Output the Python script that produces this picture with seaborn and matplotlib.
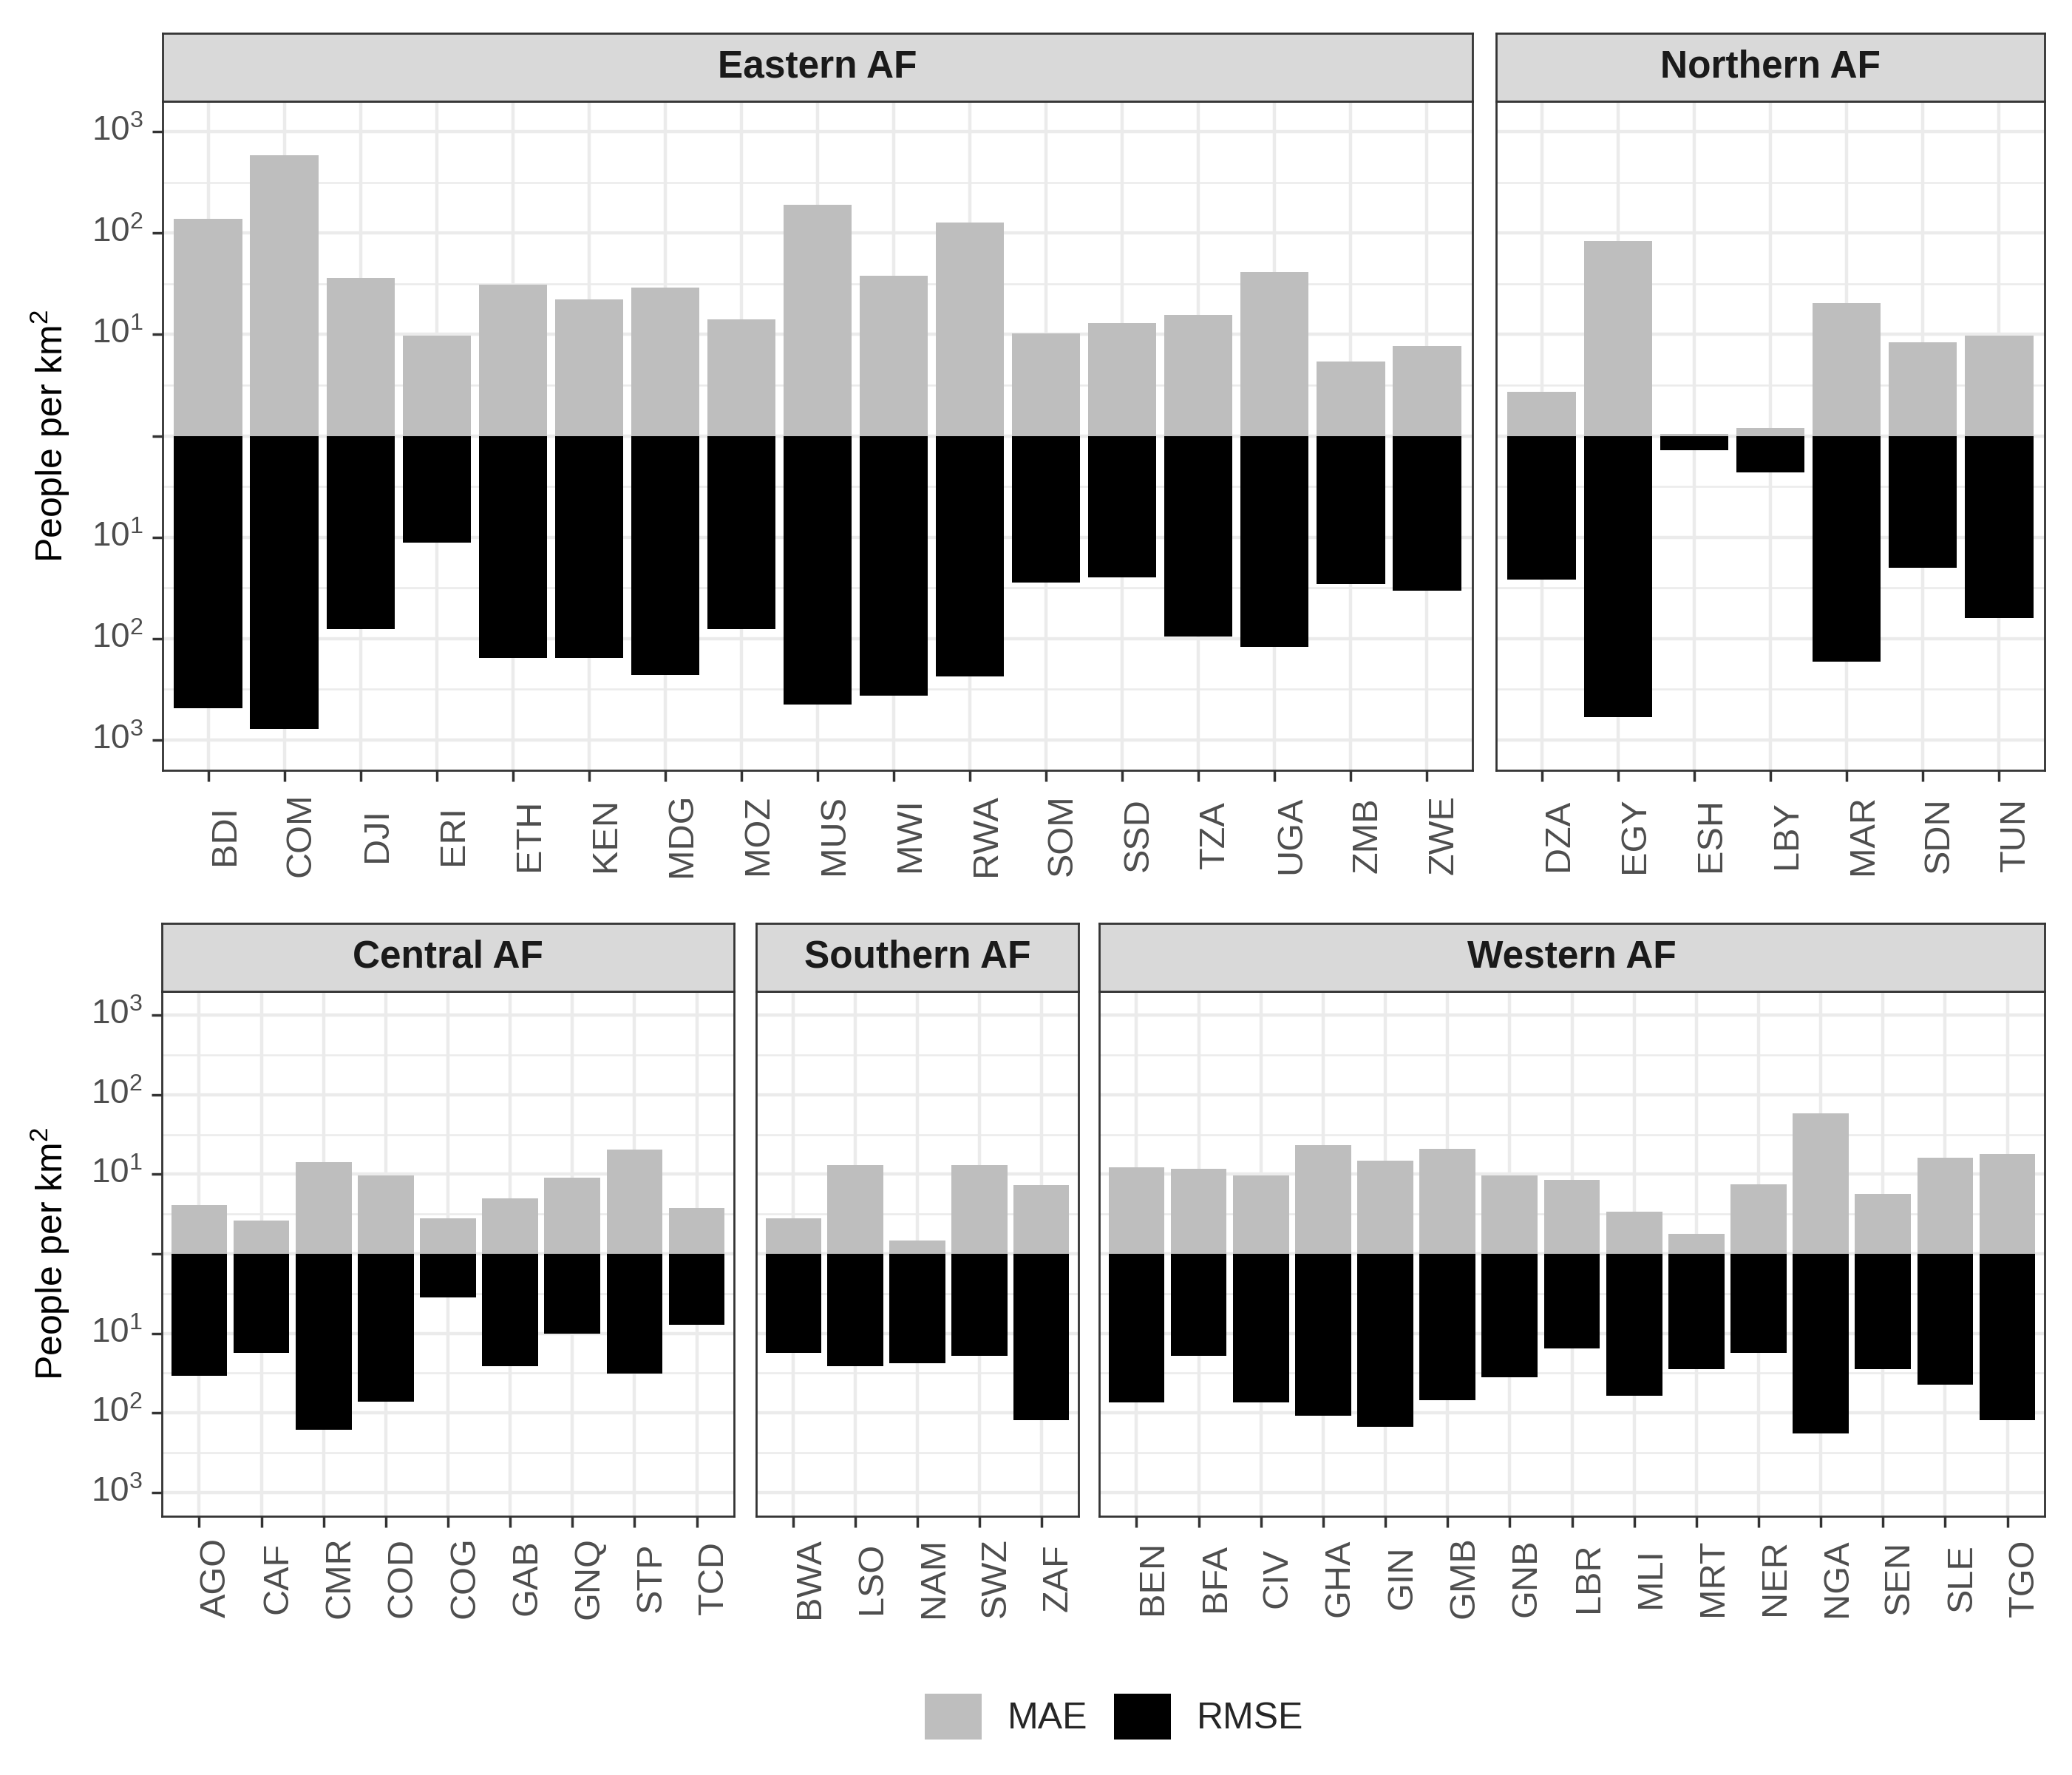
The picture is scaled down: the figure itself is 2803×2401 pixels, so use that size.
import numpy as np
import pandas as pd
import matplotlib
matplotlib.use("Agg")
import matplotlib.pyplot as plt
from matplotlib.patches import Patch
import seaborn as sns

# ---------------- data ----------------
eastern_countries = ['BDI', 'COM', 'DJI', 'ERI', 'ETH', 'KEN', 'MDG', 'MOZ', 'MUS',
                     'MWI', 'RWA', 'SOM', 'SSD', 'TZA', 'UGA', 'ZMB', 'ZWE']
eastern_mae = [138, 590, 36, 9.8, 31, 22, 29, 14, 191, 38, 127, 10.3, 12.9, 15.5, 41, 5.4, 7.7]
eastern_rmse = [490, 780, 81, 11.4, 155, 155, 230, 81, 445, 366, 237, 28, 25, 96, 120, 29, 34]

northern_countries = ['DZA', 'EGY', 'ESH', 'LBY', 'MAR', 'SDN', 'TUN']
northern_mae = [2.73, 83, 1.05, 1.2, 20.3, 8.3, 9.7]
northern_rmse = [26, 600, 1.38, 2.3, 170, 20, 63]

central_countries = ['AGO', 'CAF', 'CMR', 'COD', 'COG', 'GAB', 'GNQ', 'STP', 'TCD']
central_mae = [4.1, 2.6, 14.1, 9.7, 2.8, 5.0, 9.0, 20.5, 3.8]
central_rmse = [34, 17.7, 162, 73, 3.5, 26, 10, 32, 7.8]

southern_countries = ['BWA', 'LSO', 'NAM', 'SWZ', 'ZAF']
southern_mae = [2.8, 13, 1.46, 13, 7.3]
southern_rmse = [17.7, 26, 24, 19, 123]

western_countries = ['BEN', 'BFA', 'CIV', 'GHA', 'GIN', 'GMB', 'GNB', 'LBR', 'MLI',
                     'MRT', 'NER', 'NGA', 'SEN', 'SLE', 'TGO']
western_mae = [12.3, 11.6, 9.7, 23.5, 14.9, 21, 9.7, 8.5, 3.4, 1.8, 7.4, 58, 5.7, 16, 18]
western_rmse = [74, 19, 74, 108, 151, 69, 36, 15.4, 61, 28, 17.7, 181, 28, 44, 123]

metrics = ['MAE', 'RMSE']
y_tick_labels = ['$10^{3}$', '$10^{2}$', '$10^{1}$', '', '$10^{1}$', '$10^{2}$', '$10^{3}$']

# ---------------- tidy table ----------------
region_data = {
    'Eastern AF': (eastern_countries, eastern_mae, eastern_rmse),
    'Northern AF': (northern_countries, northern_mae, northern_rmse),
    'Central AF': (central_countries, central_mae, central_rmse),
    'Southern AF': (southern_countries, southern_mae, southern_rmse),
    'Western AF': (western_countries, western_mae, western_rmse),
}
rows = []
for region, (cs, mae, rmse) in region_data.items():
    for c, m, r in zip(cs, mae, rmse):
        rows.append(dict(region=region, country=c, metric='MAE', value=m, signed=np.log10(m)))
        rows.append(dict(region=region, country=c, metric='RMSE', value=r, signed=-np.log10(r)))
df = pd.DataFrame(rows)

# ---------------- style ----------------
sns.set_theme(style="white")
plt.rcParams['font.family'] = ['Liberation Sans', 'DejaVu Sans']
plt.rcParams['mathtext.fontset'] = 'custom'
plt.rcParams['mathtext.rm'] = 'Liberation Sans'
plt.rcParams['mathtext.it'] = 'Liberation Sans:italic'
plt.rcParams['mathtext.bf'] = 'Liberation Sans:bold'
plt.rcParams['mathtext.default'] = 'rm'

palette = {'MAE': '#BEBEBE', 'RMSE': '#000000'}
W, H = 2803, 2401
fig = plt.figure(figsize=(W / 100, H / 100), dpi=100)


def add_px_axes(x0, y0, x1, y1):
    return fig.add_axes([x0 / W, 1 - y1 / H, (x1 - x0) / W, (y1 - y0) / H])


panels = [
    ('Eastern AF', (220, 137, 1992, 1042), True, 52),
    ('Northern AF', (2024, 137, 2766, 1042), False, 52),
    ('Central AF', (219, 1341, 993, 2051), True, 49),
    ('Southern AF', (1023, 1341, 1459, 2051), False, 49),
    ('Western AF', (1487, 1341, 2766, 2051), False, 49),
]

for name, (x0, y0, x1, y1), left, xpad in panels:
    countries = region_data[name][0]
    n = len(countries)
    ax = add_px_axes(x0, y0, x1, y1)
    sub = df[df.region == name]
    sns.barplot(data=sub, x='country', y='signed', hue='metric', order=countries,
                hue_order=metrics, palette=palette, dodge=False, width=0.9,
                errorbar=None, saturation=1, legend=False, ax=ax, linewidth=0)
    ax.set_xlim(-0.6, n - 0.4)
    ax.set_ylim(-3.3, 3.3)
    ax.set_xlabel('')
    ax.set_ylabel('')
    ax.set_yticks([-3, -2, -1, 0, 1, 2, 3])
    ax.set_yticklabels(y_tick_labels[::-1][::-1], va='center')
    ax.set_yticks([-2.5, -1.5, -0.5, 0.5, 1.5, 2.5], minor=True)
    ax.set_xticks(range(n))
    ax.set_xticklabels(countries, rotation=90, ha='left', va='center')
    ax.set_facecolor('white')
    ax.grid(True, which='major', axis='both', color='#EBEBEB', lw=3.2)
    ax.grid(True, which='minor', axis='y', color='#EBEBEB', lw=1.8)
    ax.set_axisbelow(True)
    for s in ax.spines.values():
        s.set_color('#333333')
        s.set_linewidth(2)
    ax.tick_params(axis='x', which='major', length=10.8, width=2.5, color='#333333',
                   pad=xpad, labelsize=35, labelcolor='#4D4D4D', bottom=True)
    ax.tick_params(axis='y', which='minor', length=0)
    if left:
        ax.tick_params(axis='y', which='major', length=10, width=2.5, color='#333333',
                       pad=8.6, labelsize=33, labelcolor='#4D4D4D', left=True)
    else:
        ax.tick_params(axis='y', which='both', left=False, labelleft=False)

    sax = add_px_axes(x0, y0 - 92, x1, y0)
    sax.set_facecolor('#D9D9D9')
    sax.set_xticks([])
    sax.set_yticks([])
    for s in sax.spines.values():
        s.set_color('#333333')
        s.set_linewidth(2)
    sax.text(0.5, 0.5, name, transform=sax.transAxes, ha='center', va='center',
             fontsize=37, fontweight='bold', color='#1A1A1A')

# y-axis titles
for yc in (590, 1696):
    fig.text(68 / W, 1 - yc / H, 'People per km$^{2}$', rotation=90, ha='center',
             va='center', fontsize=36, color='black')

handles = [Patch(facecolor=palette[m], edgecolor='none', label=m) for m in metrics]
fig.legend(handles=handles, loc='center', bbox_to_anchor=(1507 / W, 1 - 2322 / H),
           ncol=2, frameon=False, fontsize=36, handlelength=1.54, handleheight=1.54,
           handletextpad=0.7, columnspacing=0.72)

fig.savefig('out.png', dpi=100, facecolor='white')
